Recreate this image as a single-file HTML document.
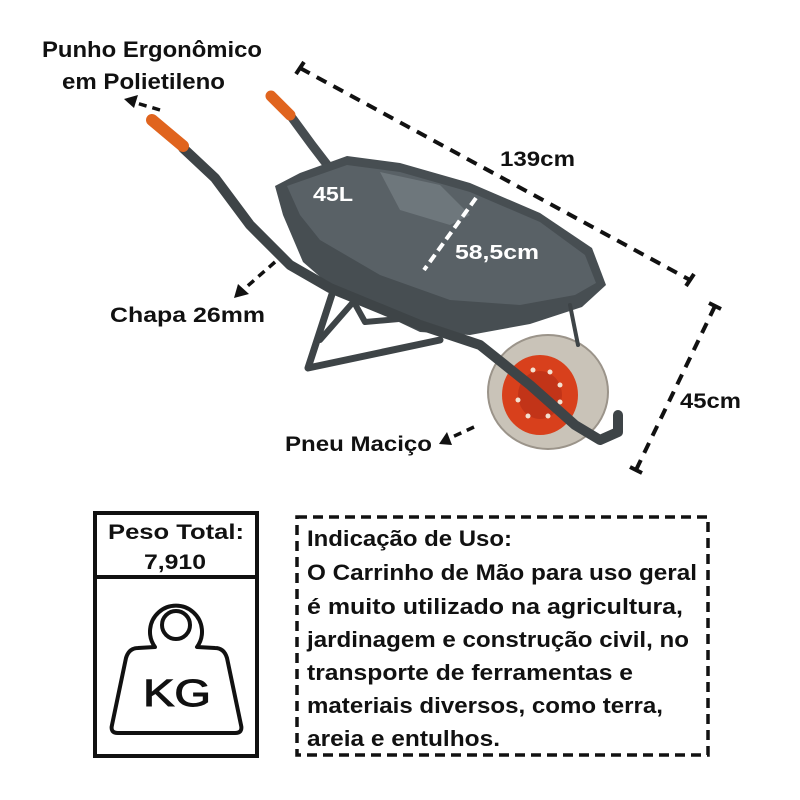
<!DOCTYPE html>
<html><head><meta charset="utf-8"><style>
html,body{margin:0;padding:0;background:#fff;}
svg{display:block;}
text{font-family:"Liberation Sans","DejaVu Sans",sans-serif;font-weight:bold;fill:#111;}
</style></head><body>
<svg width="800" height="800" viewBox="0 0 800 800" xmlns="http://www.w3.org/2000/svg">
<text x="42" y="57" font-size="22" textLength="220" lengthAdjust="spacingAndGlyphs">Punho Ergonômico</text>
<text x="62" y="89" font-size="22" textLength="163" lengthAdjust="spacingAndGlyphs">em Polietileno</text>
<line x1="160" y1="110" x2="133" y2="102" stroke="#111" stroke-width="3.5" stroke-dasharray="8,6"/>
<path d="M124,99 L138,95 L134,108 Z" fill="#111"/>
<line x1="300" y1="68" x2="690" y2="280" stroke="#111" stroke-width="4" stroke-dasharray="11,8"/>
<line x1="296" y1="74" x2="304" y2="62" stroke="#111" stroke-width="4"/>
<line x1="686" y1="286" x2="694" y2="274" stroke="#111" stroke-width="4"/>
<text x="500" y="166" font-size="21" textLength="75" lengthAdjust="spacingAndGlyphs">139cm</text>
<line x1="715" y1="306" x2="636" y2="470" stroke="#111" stroke-width="4" stroke-dasharray="11,8"/>
<line x1="709" y1="303" x2="721" y2="309" stroke="#111" stroke-width="4"/>
<line x1="630" y1="467" x2="642" y2="473" stroke="#111" stroke-width="4"/>
<text x="680" y="408" font-size="21" textLength="61" lengthAdjust="spacingAndGlyphs">45cm</text>
<text x="110" y="322" font-size="21" textLength="155" lengthAdjust="spacingAndGlyphs">Chapa 26mm</text>
<line x1="275" y1="262" x2="243" y2="290" stroke="#111" stroke-width="3.5" stroke-dasharray="8,6"/>
<path d="M234,298 L238,284 L249,294 Z" fill="#111"/>
<text x="285" y="451" font-size="21" textLength="147" lengthAdjust="spacingAndGlyphs">Pneu Maciço</text>
<line x1="474" y1="427" x2="448" y2="439" stroke="#111" stroke-width="3.5" stroke-dasharray="8,6"/>
<path d="M439,444 L447,432 L452,445 Z" fill="#111"/>

<g stroke-linecap="round" stroke-linejoin="round" fill="none">
 <path d="M290,115 L312,145 L335,175" stroke="#464c50" stroke-width="9"/>
 <line x1="271" y1="96" x2="290" y2="115" stroke="#e0641e" stroke-width="11"/>
 <path d="M335,285 L308,368 L440,340" stroke="#3e4447" stroke-width="7"/>
 <path d="M350,295 L365,322 L410,318" stroke="#3e4447" stroke-width="6"/>
 <line x1="320" y1="340" x2="355" y2="300" stroke="#3e4447" stroke-width="6"/>
</g>
<ellipse cx="548" cy="392" rx="60" ry="57" fill="#c9c3b8" stroke="#9b948a" stroke-width="2"/>
<ellipse cx="540" cy="395" rx="38" ry="40" fill="#d8401c"/>
<ellipse cx="540" cy="395" rx="22" ry="24" fill="#c23418"/>
<g fill="#f3e0d0"><circle cx="520" cy="378" r="2.5"/><circle cx="533" cy="370" r="2.5"/><circle cx="550" cy="372" r="2.5"/><circle cx="560" cy="385" r="2.5"/><circle cx="560" cy="402" r="2.5"/><circle cx="548" cy="416" r="2.5"/><circle cx="528" cy="416" r="2.5"/><circle cx="518" cy="400" r="2.5"/></g>
<path d="M275,186 L300,173 L347,156 L400,163 L470,183 L540,213 L592,248 L606,285 L582,307 L530,324 L470,335 L420,332 L340,294 L303,262 L283,215 Z" fill="#474e52"/>
<path d="M287,186 L347,165 L400,172 L470,192 L540,222 L585,255 L596,283 L575,295 L520,305 L450,300 L380,275 L320,240 L300,215 Z" fill="#596166"/>
<path d="M380,172 L440,185 L470,215 L450,225 L400,210 Z" fill="#7d868b" opacity="0.6"/>
<g stroke-linecap="round" stroke-linejoin="round" fill="none">
 <path d="M183,148 L215,178 L250,225 L290,265 L330,288 L420,325 L480,345 L530,385 L575,425 L600,440 L618,432 L618,415" stroke="#3e4447" stroke-width="10"/>
 <line x1="152" y1="120" x2="183" y2="146" stroke="#e0641e" stroke-width="12"/>
 <line x1="570" y1="305" x2="578" y2="345" stroke="#3e4447" stroke-width="4"/>
</g>
<text x="313" y="201" font-size="20" style="fill:#fff" textLength="40" lengthAdjust="spacingAndGlyphs">45L</text>
<line x1="476" y1="198" x2="424" y2="270" stroke="#fff" stroke-width="4" stroke-dasharray="9,5"/>
<text x="455" y="259" font-size="20" style="fill:#fff" textLength="84" lengthAdjust="spacingAndGlyphs">58,5cm</text>

<rect x="95" y="513" width="162" height="243" fill="none" stroke="#111" stroke-width="4"/>
<line x1="95" y1="577" x2="257" y2="577" stroke="#111" stroke-width="4"/>
<text x="108" y="539" font-size="21" textLength="136" lengthAdjust="spacingAndGlyphs">Peso Total:</text>
<text x="144" y="569" font-size="21" textLength="62" lengthAdjust="spacingAndGlyphs">7,910</text>
<circle cx="176" cy="625" r="14" fill="none" stroke="#111" stroke-width="4"/>
<path d="M155,647 A26,26 0 1 1 197,647 L215,648 Q224,648 227,658 L241,725 Q243,733 235,733 L118,733 Q110,733 112,725 L126,658 Q129,648 138,648 Z" fill="none" stroke="#111" stroke-width="4" stroke-linejoin="round"/>
<text x="143" y="706" font-size="38" textLength="68" lengthAdjust="spacingAndGlyphs" style="font-weight:normal;stroke:#111;stroke-width:1">KG</text>

<rect x="297" y="517" width="411" height="238" fill="none" stroke="#111" stroke-width="3.5" stroke-dasharray="10,6"/>
<g font-size="22">
<text x="307" y="546" textLength="205" lengthAdjust="spacingAndGlyphs">Indicação de Uso:</text>
<text x="307" y="580" textLength="390" lengthAdjust="spacingAndGlyphs">O Carrinho de Mão para uso geral</text>
<text x="307" y="614" textLength="376" lengthAdjust="spacingAndGlyphs">é muito utilizado na agricultura,</text>
<text x="307" y="647" textLength="382" lengthAdjust="spacingAndGlyphs">jardinagem e construção civil, no</text>
<text x="307" y="680" textLength="326" lengthAdjust="spacingAndGlyphs">transporte de ferramentas e</text>
<text x="307" y="713" textLength="356" lengthAdjust="spacingAndGlyphs">materiais diversos, como terra,</text>
<text x="307" y="746" textLength="193" lengthAdjust="spacingAndGlyphs">areia e entulhos.</text>
</g>
</svg>
</body></html>
